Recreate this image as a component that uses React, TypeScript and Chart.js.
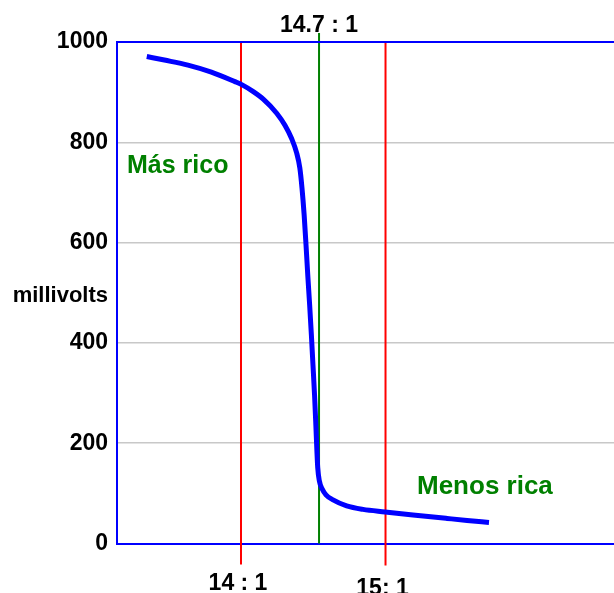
import React, { useEffect, useRef } from "react";
import { Chart, registerables } from "chart.js";

Chart.register(...registerables);

// Air/fuel ratio (x) vs sensor output in millivolts (y)
const ratioX = [
  13.348, 13.47, 13.633, 13.795, 13.958, 14.005, 14.085, 14.154, 14.247, 14.304,
  14.351, 14.385, 14.407, 14.422, 14.437, 14.45, 14.462, 14.475, 14.487, 14.498,
  14.509, 14.518, 14.525, 14.531, 14.542, 14.561, 14.588, 14.637, 14.731, 14.844,
  14.997, 15.19, 15.426, 15.564, 15.716,
];
const millivolts = [
  971, 964, 954, 940, 921, 915, 901, 886, 858, 834,
  807, 779, 749, 709, 655, 595, 535, 476, 416, 356,
  296, 236, 186, 151, 125, 109, 97, 87, 75, 68,
  63, 57, 50, 46, 42,
];

const yTicks = [0, 200, 400, 600, 800, 1000];
const yAxisTitle = "millivolts";

const markerRatios = [14, 14.54, 15];
const markerLabels = ["14 : 1", "14.7 : 1", "15: 1"];
const markerColors = ["#ff0000", "#008000", "#ff0000"];
const markerLow = [-42, 0, -44];
const markerHigh = [1000, 1018, 1000];

const regionLabels = ["Más rico", "Menos rica"];

const X_MIN = 13.142;
const X_MAX = 16.581;

const FONT = '"Liberation Sans", Arial, sans-serif';

const overlayPlugin = {
  id: "overlay",
  afterDatasetsDraw(chart: any) {
    const { ctx, chartArea } = chart;
    ctx.save();
    ctx.strokeStyle = "#0000ff";
    ctx.lineWidth = 2;
    ctx.beginPath();
    ctx.moveTo(chartArea.left - 1, chartArea.top);
    ctx.lineTo(chartArea.right, chartArea.top);
    ctx.stroke();
    ctx.restore();
  },
  afterDraw(chart: any) {
    const { ctx, chartArea, scales } = chart;
    const x = scales.x;
    ctx.save();
    ctx.fillStyle = "#000000";
    ctx.font = `bold 23px ${FONT}`;
    ctx.textAlign = "center";
    ctx.textBaseline = "alphabetic";
    ctx.fillText(markerLabels[0], x.getPixelForValue(markerRatios[0]) - 3, 590);
    ctx.fillText(markerLabels[1], x.getPixelForValue(markerRatios[1]), 32);
    ctx.fillText(markerLabels[2], x.getPixelForValue(markerRatios[2]) - 3, 595);

    ctx.font = `bold 22px ${FONT}`;
    ctx.textAlign = "right";
    ctx.fillText(yAxisTitle, chartArea.left - 9, 302);

    ctx.fillStyle = "#008000";
    ctx.textAlign = "left";
    ctx.font = `bold 25px ${FONT}`;
    ctx.fillText(regionLabels[0], chartArea.left + 10, 173);
    ctx.font = `bold 26px ${FONT}`;
    ctx.fillText(regionLabels[1], 417, 494);
    ctx.restore();
  },
};

export default function App() {
  const ref = useRef<HTMLCanvasElement | null>(null);

  useEffect(() => {
    if (!ref.current) return;
    const markerSets = markerRatios.map((r, i) => ({
      data: [
        { x: r, y: markerLow[i] },
        { x: r, y: markerHigh[i] },
      ],
      borderColor: markerColors[i],
      borderWidth: 2,
      pointRadius: 0,
      clip: false as any,
      order: 2,
    }));
    const chart = new Chart(ref.current, {
      type: "line",
      data: {
        datasets: [
          {
            data: ratioX.map((v, i) => ({ x: v, y: millivolts[i] })),
            borderColor: "#0000ff",
            borderWidth: 5,
            pointRadius: 0,
            cubicInterpolationMode: "monotone",
            order: 0,
          },
          ...markerSets,
        ] as any,
      },
      options: {
        responsive: false,
        animation: false,
        layout: { padding: { top: 42, left: 0, right: 0, bottom: 0 } },
        plugins: { legend: { display: false }, tooltip: { enabled: false } },
        scales: {
          x: {
            type: "linear",
            min: X_MIN,
            max: X_MAX,
            ticks: { display: false },
            grid: { display: false, drawTicks: false },
            border: { color: "#0000ff", width: 2 },
            afterFit: (s: any) => {
              s.height = 49.5;
            },
          },
          y: {
            min: yTicks[0],
            max: yTicks[yTicks.length - 1],
            afterBuildTicks: (s: any) => {
              s.ticks = yTicks.map((v) => ({ value: v }));
            },
            ticks: {
              color: "#000000",
              padding: 9,
              font: { family: FONT, size: 23, weight: "bold" },
              callback: (v: any) => String(v),
            },
            grid: { color: "#c8c8c8", lineWidth: 1.5, drawTicks: false },
            border: { color: "#0000ff", width: 2 },
            afterFit: (s: any) => {
              s.width = 117;
            },
          },
        },
      } as any,
      plugins: [overlayPlugin],
    });
    return () => chart.destroy();
  }, []);

  return (
    <div style={{ position: "fixed", left: 0, top: 0, width: 614, height: 593, background: "#fff" }}>
      <canvas ref={ref} width={614} height={593} style={{ display: "block" }} />
    </div>
  );
}
